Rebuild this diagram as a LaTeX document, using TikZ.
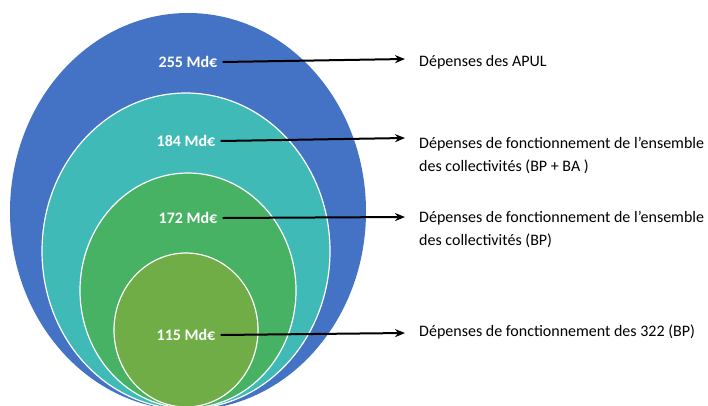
\documentclass[tikz,border=0pt]{standalone}
\usepackage{fontspec}
\setmainfont{Carlito}
\usetikzlibrary{arrows.meta, positioning, shapes.geometric}

\definecolor{apulblue}{HTML}{4472C4}
\definecolor{bpbateal}{HTML}{3FBAB6}
\definecolor{bpgreen}{HTML}{47B263}
\definecolor{olive}{HTML}{70AD47}

\begin{document}
\begin{tikzpicture}[
    x=1pt,
    y=-1pt,
    disc/.style={ellipse, inner sep=0pt, outer sep=0pt, draw=white, line width=1.2pt},
    amount/.style={text=white, inner sep=5pt, font=\bfseries\fontsize{16}{19}\selectfont},
    caption/.style={anchor=north west, align=left, inner sep=0pt, font=\fontsize{16}{23}\selectfont},
    link/.style={-{Stealth[length=10pt,width=8pt]}, line width=2pt},
]

    \useasboundingbox (0,0) rectangle (708,405);

    % nested ellipses
    \node[disc, fill=apulblue, draw=none, minimum width=356pt, minimum height=397pt] (apul) at (188,211.5) {};
    \node[disc, fill=bpbateal, minimum width=288pt, minimum height=316pt] (bpba)  at (186,251) {};
    \node[disc, fill=bpgreen,  minimum width=216pt, minimum height=235pt] (bp)    at (188,290.5) {};
    \node[disc, fill=olive,    minimum width=144pt, minimum height=154pt] (bp322) at (186,330) {};

    % amounts
    \node[amount] (v255) at (188,62)  {255 Md€};
    \node[amount] (v184) at (186,141) {184 Md€};
    \node[amount] (v172) at (188,218) {172 Md€};
    \node[amount] (v115) at (186,335) {115 Md€};

    \coordinate (t255) at (405,59);
    \coordinate (t184) at (405,138);
    \coordinate (t172) at (405,217);
    \coordinate (t115) at (405,333);

    \draw[link] (v255.east) -- (t255);
    \draw[link] (v184.east) -- (t184);
    \draw[link] (v172.east) -- (t172);
    \draw[link] (v115.east) -- (t115);

    % captions
    \node[caption] (c255) at (419,55)  {Dépenses des APUL};
    \node[caption] (c184) at (419,137) {Dépenses de fonctionnement de l’ensemble\\des collectivités (BP + BA )};
    \node[caption] (c172) at (419,211) {Dépenses de fonctionnement de l’ensemble\\des collectivités (BP)};
    \node[caption] (c115) at (419,325) {Dépenses de fonctionnement des 322 (BP)};
\end{tikzpicture}
\end{document}
